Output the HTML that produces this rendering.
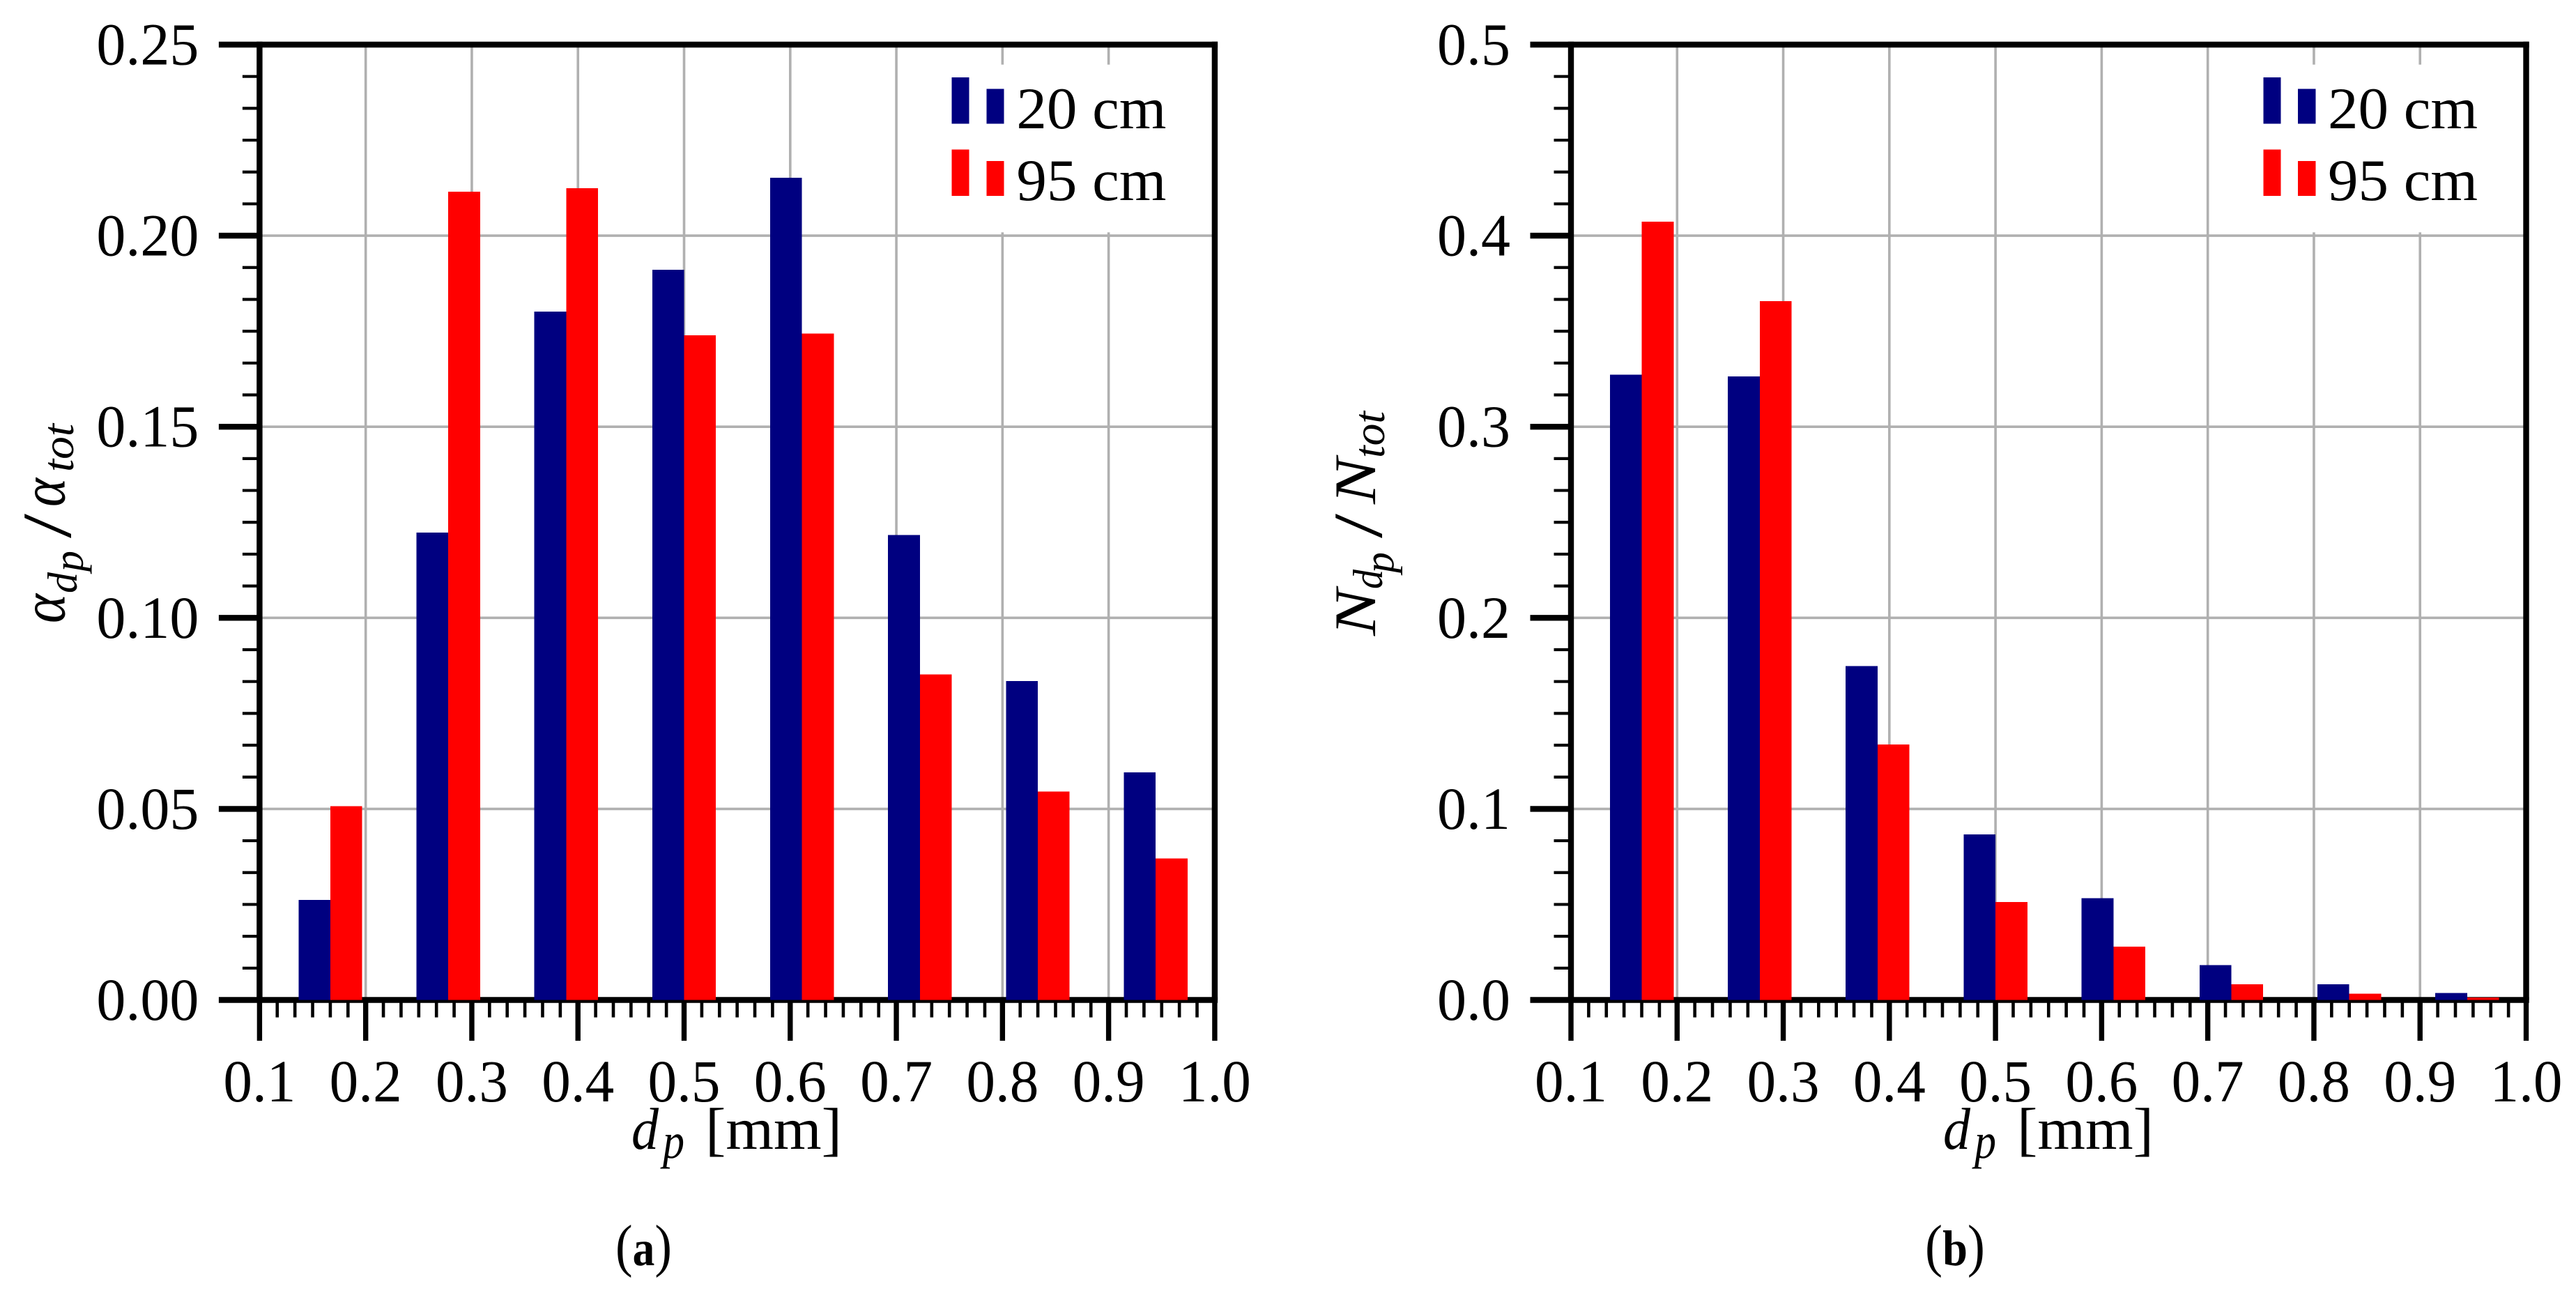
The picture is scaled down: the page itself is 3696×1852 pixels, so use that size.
<!DOCTYPE html>
<html lang="en">
<head>
<meta charset="utf-8">
<title>Particle size distributions</title>
<style>
html,body{margin:0;padding:0;background:#fff;}
svg{display:block;}
text{font-family:"Liberation Serif",serif;fill:#000;}
.main{font-size:85px;}
.tick{font-size:86px;}
.it{font-style:italic;}
</style>
</head>
<body>
<svg id="figure" xmlns="http://www.w3.org/2000/svg" width="3696" height="1852" viewBox="0 0 3696 1852">
  <rect x="0" y="0" width="3696" height="1852" fill="#fff"/>
  <g id="panel-a"></g>
  <g id="panel-b"></g>

  <g>
    <text class="it" font-size="90" transform="translate(92.7,894) rotate(-90)" textLength="42" lengthAdjust="spacingAndGlyphs">α</text>
    <text class="it" font-size="60" transform="translate(110,851) rotate(-90)" textLength="30" lengthAdjust="spacingAndGlyphs">d</text>
    <text class="it" font-size="60" transform="translate(118.7,820) rotate(-90)" textLength="30" lengthAdjust="spacingAndGlyphs">p</text>
    <text font-size="100" transform="translate(101,772) rotate(-90)" textLength="35" lengthAdjust="spacingAndGlyphs">/</text>
    <text class="it" font-size="90" transform="translate(92.7,727) rotate(-90)" textLength="41" lengthAdjust="spacingAndGlyphs">α</text>
    <text class="it" font-size="64" transform="translate(105,677) rotate(-90)" textLength="69" lengthAdjust="spacingAndGlyphs">tot</text>
  </g>
  <g>
    <text class="main it" transform="translate(1973,912) rotate(-90)" textLength="67" lengthAdjust="spacingAndGlyphs">N</text>
    <text class="it" font-size="60" transform="translate(1983,845) rotate(-90)" textLength="28" lengthAdjust="spacingAndGlyphs">d</text>
    <text class="it" font-size="60" transform="translate(1999,822) rotate(-90)" textLength="30" lengthAdjust="spacingAndGlyphs">p</text>
    <text font-size="100" transform="translate(1982,772) rotate(-90)" textLength="35" lengthAdjust="spacingAndGlyphs">/</text>
    <text class="main it" transform="translate(1973,723) rotate(-90)" textLength="66" lengthAdjust="spacingAndGlyphs">N</text>
    <text class="it" font-size="64" transform="translate(1986,657) rotate(-90)" textLength="67" lengthAdjust="spacingAndGlyphs">tot</text>
  </g>

  <g>
    <text class="main it" x="906" y="1648" textLength="39" lengthAdjust="spacingAndGlyphs">d</text>
    <text class="it" font-size="72" x="951" y="1661" textLength="31" lengthAdjust="spacingAndGlyphs">p</text>
    <text class="main" x="1012" y="1648" textLength="196" lengthAdjust="spacingAndGlyphs">[mm]</text>
  </g>
  <g>
    <text class="main it" x="2788" y="1648" textLength="39" lengthAdjust="spacingAndGlyphs">d</text>
    <text class="it" font-size="72" x="2833" y="1661" textLength="31" lengthAdjust="spacingAndGlyphs">p</text>
    <text class="main" x="2894" y="1648" textLength="196" lengthAdjust="spacingAndGlyphs">[mm]</text>
  </g>

  <text x="883" y="1815" font-size="72" textLength="81" lengthAdjust="spacingAndGlyphs"><tspan font-size="84">(</tspan><tspan font-weight="bold">a</tspan><tspan font-size="84">)</tspan></text>
  <text x="2762" y="1815" font-size="72" textLength="86" lengthAdjust="spacingAndGlyphs"><tspan font-size="84">(</tspan><tspan font-weight="bold">b</tspan><tspan font-size="84">)</tspan></text>
</svg>

<script>
// Chart data
var binCenters = [0.1667, 0.2778, 0.3889, 0.5, 0.6111, 0.7222, 0.8333, 0.9444];
var alpha20cm = [0.0262, 0.1223, 0.1801, 0.1911, 0.2152, 0.1217, 0.0835, 0.0596];
var alpha95cm = [0.0507, 0.2115, 0.2124, 0.1739, 0.1744, 0.0852, 0.0545, 0.0370];
var count20cm = [0.3273, 0.3263, 0.1748, 0.0867, 0.0533, 0.0183, 0.0082, 0.0037];
var count95cm = [0.4074, 0.3658, 0.1337, 0.0512, 0.0279, 0.0082, 0.0032, 0.0013];
var seriesNames = ['20 cm', '95 cm'];
var seriesColors = ['#000080', '#ff0000'];
var xTickValues = [0.1, 0.2, 0.3, 0.4, 0.5, 0.6, 0.7, 0.8, 0.9, 1.0];
var xTickLabels = ['0.1', '0.2', '0.3', '0.4', '0.5', '0.6', '0.7', '0.8', '0.9', '1.0'];
var yTickValuesA = [0, 0.05, 0.10, 0.15, 0.20, 0.25];
var yTickLabelsA = ['0.00', '0.05', '0.10', '0.15', '0.20', '0.25'];
var yTickValuesB = [0, 0.1, 0.2, 0.3, 0.4, 0.5];
var yTickLabelsB = ['0.0', '0.1', '0.2', '0.3', '0.4', '0.5'];

var SVG_NS = 'http://www.w3.org/2000/svg';
var PLOT_TOP = 64, PLOT_BOTTOM = 1434.5, PLOT_SIZE = 1370.5;
var X_MIN = 0.1, X_MAX = 1.0, BAR_WIDTH = 0.03, MINOR_DIV = 6;

function mk(parent, tag, attrs, txt) {
  var el = document.createElementNS(SVG_NS, tag);
  for (var k in attrs) { el.setAttribute(k, attrs[k]); }
  if (txt !== undefined) { el.textContent = txt; }
  parent.appendChild(el);
  return el;
}

function drawPanel(panelId, left, yMax, yTicks, yLabels, series20, series95) {
  var root = document.getElementById(panelId);
  var xScale = function (v) { return left + (v - X_MIN) / (X_MAX - X_MIN) * PLOT_SIZE; };
  var yScale = function (v) { return PLOT_BOTTOM - v / yMax * PLOT_SIZE; };
  var right = left + PLOT_SIZE;
  var el, i, j;

  // grid
  var grid = mk(root, 'g', {});
  
  
  for (i = 0; i < xTickValues.length; i++) {
    el = mk(grid, 'line', {x1: xScale(xTickValues[i]), x2: xScale(xTickValues[i]), y1: PLOT_TOP, y2: PLOT_BOTTOM, stroke: '#b0b0b0', 'stroke-width': 3.6});
    
    
  }
  for (i = 0; i < yTicks.length; i++) {
    el = mk(grid, 'line', {x1: left, x2: right, y1: yScale(yTicks[i]), y2: yScale(yTicks[i]), stroke: '#b0b0b0', 'stroke-width': 3.6});
    
    
  }

  // axes: spines and ticks
  var axes = mk(root, 'g', {});
  
  
  el = mk(axes, 'line', {x1: left, x2: left, y1: PLOT_TOP - 4.3, y2: PLOT_BOTTOM, stroke: '#000', 'stroke-width': 8.4});
  
  
  el = mk(axes, 'line', {x1: right, x2: right, y1: PLOT_TOP - 4.3, y2: PLOT_BOTTOM, stroke: '#000', 'stroke-width': 8.4});
  
  
  el = mk(axes, 'line', {x1: left, x2: right + 4.2, y1: PLOT_TOP, y2: PLOT_TOP, stroke: '#000', 'stroke-width': 8.4});
  
  
  el = mk(axes, 'line', {x1: left, x2: right + 4.2, y1: PLOT_BOTTOM, y2: PLOT_BOTTOM, stroke: '#000', 'stroke-width': 8.6});
  
  

  // x ticks
  for (i = 0; i < xTickValues.length; i++) {
    var tx = xScale(xTickValues[i]);
    el = mk(axes, 'line', {x1: tx, x2: tx, y1: PLOT_BOTTOM, y2: 1493, stroke: '#000', 'stroke-width': 7.4});
    
    
    el = mk(axes, 'text', {x: tx, y: 1580, 'text-anchor': 'middle', 'class': 'tick', textLength: 104, lengthAdjust: 'spacingAndGlyphs'}, xTickLabels[i]);
    
    
    if (i < xTickValues.length - 1) {
      var step = (xTickValues[i + 1] - xTickValues[i]) / MINOR_DIV;
      for (j = 1; j < MINOR_DIV; j++) {
        var mx = xScale(xTickValues[i] + step * j);
        el = mk(axes, 'line', {x1: mx, x2: mx, y1: PLOT_BOTTOM, y2: 1459.5, stroke: '#000', 'stroke-width': 4.6});
        
        
      }
    }
  }

  // y ticks
  for (i = 0; i < yTicks.length; i++) {
    var ty = yScale(yTicks[i]);
    el = mk(axes, 'line', {x1: left - 58.5, x2: left, y1: ty, y2: ty, stroke: '#000', 'stroke-width': 8.4});
    
    
    el = mk(axes, 'text', {x: left - 87, y: ty + 28.5, 'text-anchor': 'end', 'class': 'tick', textLength: yLabels[i].length === 4 ? 147 : 105, lengthAdjust: 'spacingAndGlyphs'}, yLabels[i]);
    
    
    if (i < yTicks.length - 1) {
      var ystep = (yTicks[i + 1] - yTicks[i]) / MINOR_DIV;
      for (j = 1; j < MINOR_DIV; j++) {
        var my = yScale(yTicks[i] + ystep * j);
        el = mk(axes, 'line', {x1: left - 24.5, x2: left, y1: my, y2: my, stroke: '#000', 'stroke-width': 4.2});
        
        
      }
    }
  }

  // bars
  var bars = mk(root, 'g', {'shape-rendering': 'crispEdges'});
  
  
  var barPx = xScale(X_MIN + BAR_WIDTH) - xScale(X_MIN);
  for (i = 0; i < binCenters.length; i++) {
    var cx = xScale(binCenters[i]);
    el = mk(bars, 'rect', {x: cx - barPx, y: yScale(series20[i]), width: barPx, height: PLOT_BOTTOM - yScale(series20[i]), fill: seriesColors[0]});
    
    
    el = mk(bars, 'rect', {x: cx, y: yScale(series95[i]), width: barPx, height: PLOT_BOTTOM - yScale(series95[i]), fill: seriesColors[1]});
    
    
  }

  // legend
  var legend = mk(root, 'g', {});
  
  
  el = mk(legend, 'rect', {x: left + 920, y: 92.7, width: 440, height: 240.6, fill: '#fff'});
  
  
  for (i = 0; i < seriesNames.length; i++) {
    var top = 111 + i * 103.3;
    var entry = mk(legend, 'g', {'shape-rendering': 'crispEdges'});
    
    
    el = mk(entry, 'rect', {x: left + 993.3, y: top, width: 25, height: 66.7, fill: seriesColors[i]});
    
    
    el = mk(entry, 'rect', {x: left + 1043, y: top + 16.7, width: 25.3, height: 50, fill: seriesColors[i]});
    
    
    el = mk(legend, 'text', {x: left + 1086, y: 184 + i * 103, 'class': 'main', textLength: 215, lengthAdjust: 'spacingAndGlyphs'}, seriesNames[i]);
    
    
  }
}

drawPanel('panel-a', 372.4, 0.25, yTickValuesA, yTickLabelsA, alpha20cm, alpha95cm);
drawPanel('panel-b', 2254, 0.5, yTickValuesB, yTickLabelsB, count20cm, count95cm);
</script>
</body>
</html>
